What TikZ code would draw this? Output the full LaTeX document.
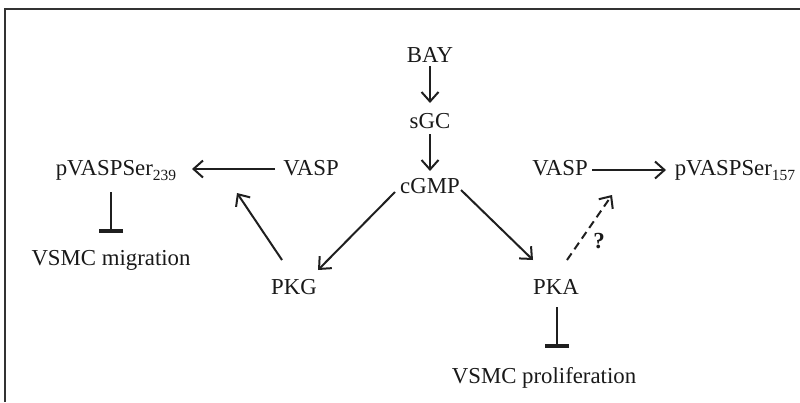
\documentclass[tikz,border=0pt]{standalone}
\usepackage{fontspec}
\setmainfont{Liberation Serif}
\usetikzlibrary{arrows.meta,calc}
\newcommand{\mysub}[1]{\raisebox{-5pt}{\fontsize{15.5}{18}\selectfont #1}}
\begin{document}
\begin{tikzpicture}[x=1pt,y=-1pt,
  lbl/.style={inner sep=0pt,anchor=base,text=black!90,font=\fontsize{22.8}{27}\selectfont},
  act/.style={line width=2pt,draw=black!88,-{Straight Barb[length=9.5pt,width=17pt,line width=2pt]}},
  inh/.style={line width=2.4pt,draw=black!88,-{Bar[width=24pt,line width=4pt]}},
  frame/.style={line width=1.5pt,draw=black!80}]
\useasboundingbox (0,0) rectangle (800,402);
\draw[frame] (5,402) -- (5,9) -- (800,9);

\node[lbl] (bay) at (430,62) {BAY};
\node[lbl] (sgc) at (430,128) {sGC};
\node[lbl] (cgmp) at (430,193) {cGMP};
\node[lbl] (vaspl) at (311,175) {VASP};
\node[lbl] (pv239) at (116,175) {pVASPSer\mysub{239}};
\node[lbl] (vaspr) at (560,175) {VASP};
\node[lbl] (pv157) at (735,175) {pVASPSer\mysub{157}};
\node[lbl] (pkg) at (294,294) {PKG};
\node[lbl] (pka) at (556,294) {PKA};
\node[lbl] (mig) at (111,265) {VSMC migration};
\node[lbl] (prol) at (544,383) {VSMC proliferation};
\node[lbl,font=\fontsize{23}{27}\selectfont\bfseries] (q) at (599,248) {?};
\coordinate (m1) at (237,193);
\coordinate (m2) at (612,195);

\draw[act] ($(bay.base)+(0,4)$) -- ($(sgc.base)+(0,-25)$);
\draw[act] ($(sgc.base)+(0,6)$) -- ($(cgmp.base)+(0,-22)$);
\draw[act] ($(vaspl.base)+(-36,-6)$) -- ($(pv239.base)+(76,-6)$);
\draw[act] ($(vaspr.base)+(32,-5)$) -- ($(pv157.base)+(-69,-5)$);
\draw[act] ($(pkg.base)+(-12,-34)$) -- (m1);
\draw[act] ($(cgmp.base)+(-35,-1)$) -- ($(pkg.base)+(24,-24)$);
\draw[act] ($(cgmp.base)+(31,-3)$) -- ($(pka.base)+(-23,-34)$);
\draw[act,dash pattern=on 8pt off 5pt] ($(pka.base)+(11,-34)$) -- (m2);
\draw[inh] ($(pv239.base)+(-5,17)$) -- ($(pv239.base)+(-5,58)$);
\draw[inh] ($(pka.base)+(1,13)$) -- ($(pka.base)+(1,54)$);
\end{tikzpicture}
\end{document}
